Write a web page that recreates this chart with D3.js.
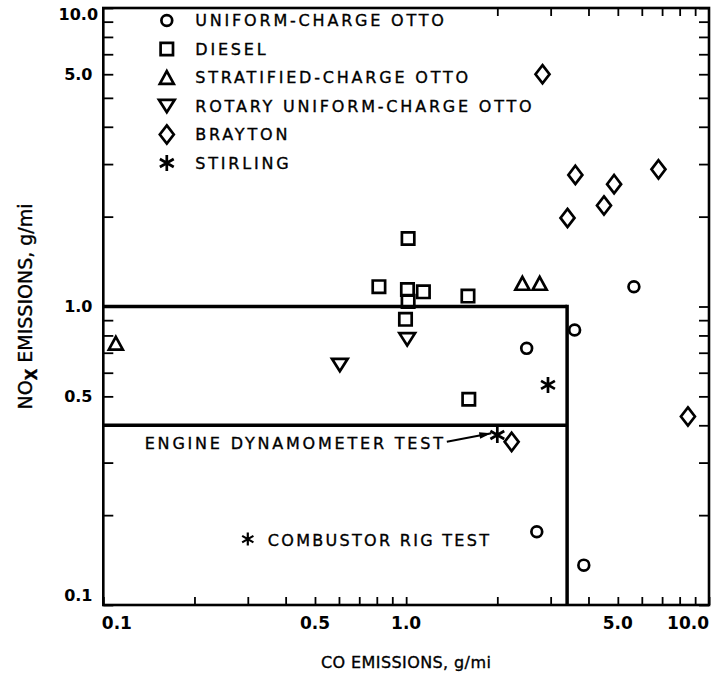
<!DOCTYPE html>
<html>
<head>
<meta charset="utf-8">
<script src="https://cdn.jsdelivr.net/npm/d3@7"></script>
<style>
  html, body { margin: 0; padding: 0; background: #fff; }
  svg { display: block; }
  text { font-family: "DejaVu Sans", sans-serif; fill: #000; }
  text.ink { stroke: #000; stroke-width: 0.35px; }
</style>
</head>
<body>
<svg id="chart" width="712" height="677"></svg>
<script>
// NOx versus CO emissions of automotive engine types, g/mi, log-log axes.

// Engine families, in legend order
const seriesNames = [
  "UNIFORM-CHARGE OTTO",
  "DIESEL",
  "STRATIFIED-CHARGE OTTO",
  "ROTARY UNIFORM-CHARGE OTTO",
  "BRAYTON",
  "STIRLING"
];

// CO and NOx emissions (g/mi) for each engine family
const uniformOttoCO   = [5.65, 3.60, 2.50, 2.70, 3.86];
const uniformOttoNOx  = [1.165, 0.834, 0.724, 0.176, 0.136];
const dieselCO        = [1.015, 0.813, 1.01, 1.14, 1.015, 0.995, 1.60, 1.61];
const dieselNOx       = [1.69, 1.165, 1.14, 1.12, 1.04, 0.906, 1.084, 0.489];
const stratifiedCO    = [0.110, 2.42, 2.76];
const stratifiedNOx   = [0.753, 1.196, 1.196];
const rotaryCO        = [0.604, 1.008];
const rotaryNOx       = [0.637, 0.776];
const braytonCO       = [2.82, 3.62, 3.41, 4.86, 4.50, 6.81, 8.52, 2.23];
const braytonNOx      = [6.0, 2.76, 1.98, 2.57, 2.18, 2.88, 0.428, 0.352];
const stirlingCO      = [2.94, 2.00];
const stirlingNOx     = [0.546, 0.371];

// Emission standard box: CO 3.4 g/mi, NOx 1.0 and 0.4 g/mi
const standardCO  = 3.4;
const standardNOx = [1.0, 0.4];

// Labelled ticks
const xTickValues = [0.1, 0.5, 1, 5, 10];
const xTickText   = ["0.1", "0.5", "1.0", "5.0", "10.0"];
const yTickValues = [0.1, 0.5, 1, 6, 10];
const yTickText   = ["0.1", "0.5", "1.0", "5.0", "10.0"];

// Annotation anchors (data coordinates)
const dynoTestPoint = [stirlingCO[1], stirlingNOx[1]];
const rigTestNote   = [0.3, 0.165];

const plot = { left: 103.3, right: 709, top: 8, bottom: 605 };

const svg = d3.select("#chart");
svg.append("rect").attr("width", 712).attr("height", 677).attr("fill", "#fff");

const x = d3.scaleLog().domain([0.1, 10]).range([plot.left, plot.right]);
const y = d3.scaleLog().domain([0.1, 10]).range([plot.bottom, plot.top]);

// ---- tick marks (inward) ----
function cleanAxis(g) {
  g.select(".domain").remove();
  g.selectAll(".tick line").attr("stroke", "#000").attr("stroke-width", 1.8);
}
svg.append("g")
  .attr("transform", `translate(0,${plot.bottom})`)
  .call(d3.axisBottom(x).tickValues(x.ticks()).tickSize(-8).tickFormat(""))
  .call(cleanAxis);
svg.append("g")
  .attr("transform", `translate(0,${plot.top})`)
  .call(d3.axisTop(x).tickValues(x.ticks().filter(v => v >= 2 && v < 10)).tickSize(-8).tickFormat(""))
  .call(cleanAxis);
svg.append("g")
  .attr("transform", `translate(${plot.left},0)`)
  .call(d3.axisLeft(y).tickValues(y.ticks()).tickSize(-10).tickFormat(""))
  .call(cleanAxis);
svg.append("g")
  .attr("transform", `translate(${plot.right},0)`)
  .call(d3.axisRight(y).tickValues(y.ticks()).tickSize(-10).tickFormat(""))
  .call(cleanAxis);

// ---- frame ----
svg.append("rect")
  .attr("x", plot.left).attr("y", plot.top)
  .attr("width", plot.right - plot.left).attr("height", plot.bottom - plot.top)
  .attr("fill", "none").attr("stroke", "#000").attr("stroke-width", 2.6);

// ---- tick labels ----
svg.append("g").selectAll("text")
  .data(xTickValues)
  .join("text")
  .attr("x", (d, i) => i === 0 ? x(d) - 1.5 : x(d))
  .attr("y", plot.bottom + 24)
  .attr("text-anchor", (d, i) => i === 0 ? "start" : (i === xTickValues.length - 1 ? "end" : "middle"))
  .attr("font-size", 17).attr("font-weight", "bold")
  .text((d, i) => xTickText[i]);

svg.append("g").selectAll("text")
  .data(yTickValues)
  .join("text")
  .attr("x", plot.left - 25)
  .attr("y", d => Math.min(Math.max(y(d), plot.top + 6), plot.bottom - 10))
  .attr("dy", "0.36em")
  .attr("text-anchor", "middle")
  .attr("font-size", 16).attr("font-weight", "bold")
  .text((d, i) => yTickText[i]);

// ---- axis titles ----
svg.append("text")
  .attr("class", "ink")
  .attr("x", (plot.left + plot.right) / 2)
  .attr("y", 668)
  .attr("text-anchor", "middle")
  .attr("font-size", 16)
  .attr("letter-spacing", 0.4)
  .text("CO EMISSIONS, g/mi");

const yTitle = svg.append("text")
  .attr("class", "ink")
  .attr("transform", `translate(31.5,${(plot.top + plot.bottom) / 2}) rotate(-90)`)
  .attr("text-anchor", "middle")
  .attr("font-size", 19);
yTitle.append("tspan").text("NO");
yTitle.append("tspan").attr("dy", 5).attr("font-size", 15).attr("font-weight", "bold").text("X");
yTitle.append("tspan").attr("dy", -5).text(" EMISSIONS, g/mi");

// ---- emission standard box ----
const box = svg.append("g").attr("stroke", "#000").attr("stroke-width", 3.5).attr("fill", "none");
standardNOx.forEach(v => {
  box.append("line")
    .attr("x1", x(0.1)).attr("x2", x(standardCO))
    .attr("y1", y(v)).attr("y2", y(v));
});
box.append("line")
  .attr("x1", x(standardCO)).attr("x2", x(standardCO))
  .attr("y1", y(d3.max(standardNOx)) - 1.75).attr("y2", y(0.1));

// ---- marker shapes ----
const shapes = {
  circle: { draw(c, r) { c.moveTo(r, 0); c.arc(0, 0, r, 0, 2 * Math.PI); } },
  square: { draw(c, r) { c.rect(-r, -r, 2 * r, 2 * r); } },
  triangleUp: { draw(c, r) {
    c.moveTo(0, -0.92 * r); c.lineTo(1.0 * r, 0.92 * r); c.lineTo(-1.0 * r, 0.92 * r); c.closePath(); } },
  triangleDown: { draw(c, r) {
    c.moveTo(-1.12 * r, -0.88 * r); c.lineTo(1.12 * r, -0.88 * r); c.lineTo(0, 0.88 * r); c.closePath(); } },
  diamond: { draw(c, r) {
    c.moveTo(0, -1.3 * r); c.lineTo(r, 0); c.lineTo(0, 1.3 * r); c.lineTo(-r, 0); c.closePath(); } },
  asterisk: { draw(c, r) {
    const u = r * Math.sqrt(3) / 2, t = r / 2;
    c.moveTo(0, -r); c.lineTo(0, r);
    c.moveTo(-u, -t); c.lineTo(u, t);
    c.moveTo(-u, t); c.lineTo(u, -t); } }
};

const series = [
  { name: seriesNames[0], co: uniformOttoCO, nox: uniformOttoNOx, shape: shapes.circle,       r: 5.4 },
  { name: seriesNames[1], co: dieselCO,      nox: dieselNOx,      shape: shapes.square,       r: 6.2 },
  { name: seriesNames[2], co: stratifiedCO,  nox: stratifiedNOx,  shape: shapes.triangleUp,   r: 7.0 },
  { name: seriesNames[3], co: rotaryCO,      nox: rotaryNOx,      shape: shapes.triangleDown, r: 7.0 },
  { name: seriesNames[4], co: braytonCO,     nox: braytonNOx,     shape: shapes.diamond,      r: 7.0 },
  { name: seriesNames[5], co: stirlingCO,    nox: stirlingNOx,    shape: shapes.asterisk,     r: 8.0 }
];

const marks = svg.append("g")
  .attr("fill", "none").attr("stroke", "#000").attr("stroke-width", 2.7)
  .attr("stroke-linejoin", "miter");

series.forEach(s => {
  const sym = d3.symbol().type(s.shape).size(s.r);
  marks.append("g").selectAll("path")
    .data(d3.zip(s.co, s.nox))
    .join("path")
    .attr("transform", d => `translate(${x(d[0])},${y(d[1])})`)
    .attr("d", sym);
});

// ---- legend ----
const legend = svg.append("g");
series.forEach((s, i) => {
  const ly = plot.top + 12.5 + i * 28.5;
  legend.append("path")
    .attr("transform", `translate(${plot.left + 63.5},${ly})`)
    .attr("d", d3.symbol().type(s.shape).size(s.r)())
    .attr("fill", "none").attr("stroke", "#000").attr("stroke-width", 2.7);
  legend.append("text")
    .attr("class", "ink")
    .attr("x", plot.left + 92).attr("y", ly).attr("dy", "0.36em")
    .attr("font-size", 16).attr("letter-spacing", 2.8)
    .text(s.name);
});

// ---- annotations ----
const dx = x(dynoTestPoint[0]), dy = y(dynoTestPoint[1]);
const arrowStart = [dx - 50.5, dy + 6.7];
const arrowEnd = [dx - 6, dy - 1.8];
svg.append("text")
  .attr("class", "ink")
  .attr("x", arrowStart[0] - 1).attr("y", dy + 8).attr("dy", "0.36em")
  .attr("text-anchor", "end")
  .attr("font-size", 16).attr("letter-spacing", 2.8)
  .text("ENGINE DYNAMOMETER TEST");
svg.append("line")
  .attr("x1", arrowStart[0]).attr("y1", arrowStart[1])
  .attr("x2", arrowEnd[0]).attr("y2", arrowEnd[1])
  .attr("stroke", "#000").attr("stroke-width", 2);
{
  const ang = Math.atan2(arrowEnd[1] - arrowStart[1], arrowEnd[0] - arrowStart[0]);
  const len = 12, half = 3.3;
  const bx = arrowEnd[0] - len * Math.cos(ang), by = arrowEnd[1] - len * Math.sin(ang);
  const p = d3.path();
  p.moveTo(arrowEnd[0], arrowEnd[1]);
  p.lineTo(bx - half * Math.sin(ang), by + half * Math.cos(ang));
  p.lineTo(bx + half * Math.sin(ang), by - half * Math.cos(ang));
  p.closePath();
  svg.append("path").attr("d", p.toString()).attr("fill", "#000");
}

const rx = x(rigTestNote[0]), ry = y(rigTestNote[1]);
svg.append("path")
  .attr("transform", `translate(${rx},${ry - 1})`)
  .attr("d", d3.symbol().type(shapes.asterisk).size(6.5)())
  .attr("fill", "none").attr("stroke", "#000").attr("stroke-width", 2.2);
svg.append("text")
  .attr("class", "ink")
  .attr("x", rx + 20).attr("y", ry).attr("dy", "0.36em")
  .attr("font-size", 16).attr("letter-spacing", 2.3)
  .text("COMBUSTOR RIG TEST");
</script>
</body>
</html>
